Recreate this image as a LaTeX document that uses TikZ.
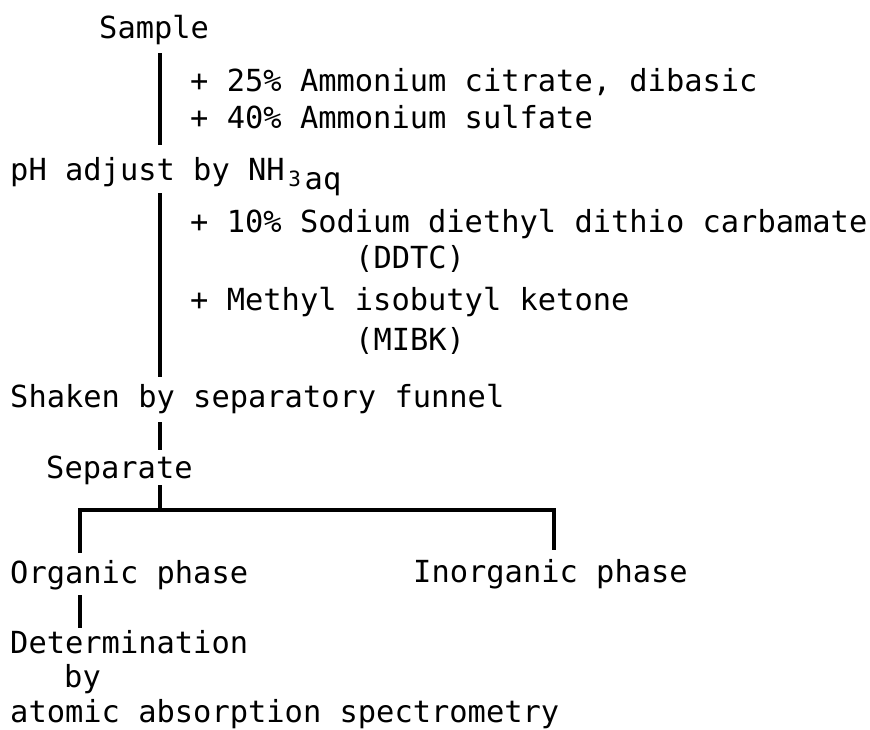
\documentclass[tikz,border=0pt]{standalone}
\usepackage{fontspec}
\setmainfont{DejaVu Sans Mono}
\usetikzlibrary{calc}

\tikzset{
  txt/.style  = {anchor=base west, inner sep=0pt, font=\fontsize{30.4}{36}\selectfont},
  stem/.style = {line width=4.5pt, line join=miter}
}

\begin{document}
\begin{tikzpicture}[x=1pt, y=-1pt]
\useasboundingbox (0,0) rectangle (870,729);
\coordinate (trunk) at (160,0);

\node[txt] (sample)    at (99,38)  {Sample};
\node[txt] (citrate)   at (190,91) {+ 25\% Ammonium citrate, dibasic};
\node[txt] (sulfate)   at (190,128) {+ 40\% Ammonium sulfate};
\node[txt] (ph)        at (10,180) {pH adjust by NH\raisebox{-6pt}{\makebox[20pt][c]{\fontsize{21}{21}\selectfont 3}}\raisebox{-9pt}{aq}};
\node[txt] (ddtc)      at (190,232) {+ 10\% Sodium diethyl dithio carbamate};
\node[txt] (ddtc abbr) at (355,268) {(DDTC)};
\node[txt] (mibk)      at (190,310) {+ Methyl isobutyl ketone};
\node[txt] (mibk abbr) at (355,350) {(MIBK)};
\node[txt] (shaken)    at (10,407) {Shaken by separatory funnel};
\node[txt] (separate)  at (46,478) {Separate};
\node[txt] (organic)   at (10,583) {Organic phase};
\node[txt] (inorganic) at (413,582) {Inorganic phase};
\node[txt] (determ)    at (10,653) {Determination};
\node[txt] (by)        at (64,687) {by};
\node[txt] (aas)       at (10,722) {atomic absorption spectrometry};

\coordinate (split) at (160,510);

% main line
\draw[stem] ($(sample.base -| trunk)+(0,15)$) -- ($(ph.base -| trunk)+(0,-35)$);
\draw[stem] ($(ph.base -| trunk)+(0,13)$) -- ($(shaken.base -| trunk)+(0,-30)$);
\draw[stem] ($(shaken.base -| trunk)+(0,15)$) -- ($(separate.base -| trunk)+(0,-28)$);
\draw[stem] ($(separate.base -| trunk)+(0,7)$) -- (split);
% two phases
\draw[stem] ($(organic.base west)+(70,-30)$) |- (split) -| ($(inorganic.base west)+(141,-32)$);
\draw[stem] ($(organic.base west)+(70,12)$) -- ($(determ.base west)+(70,-25)$);
\end{tikzpicture}
\end{document}
